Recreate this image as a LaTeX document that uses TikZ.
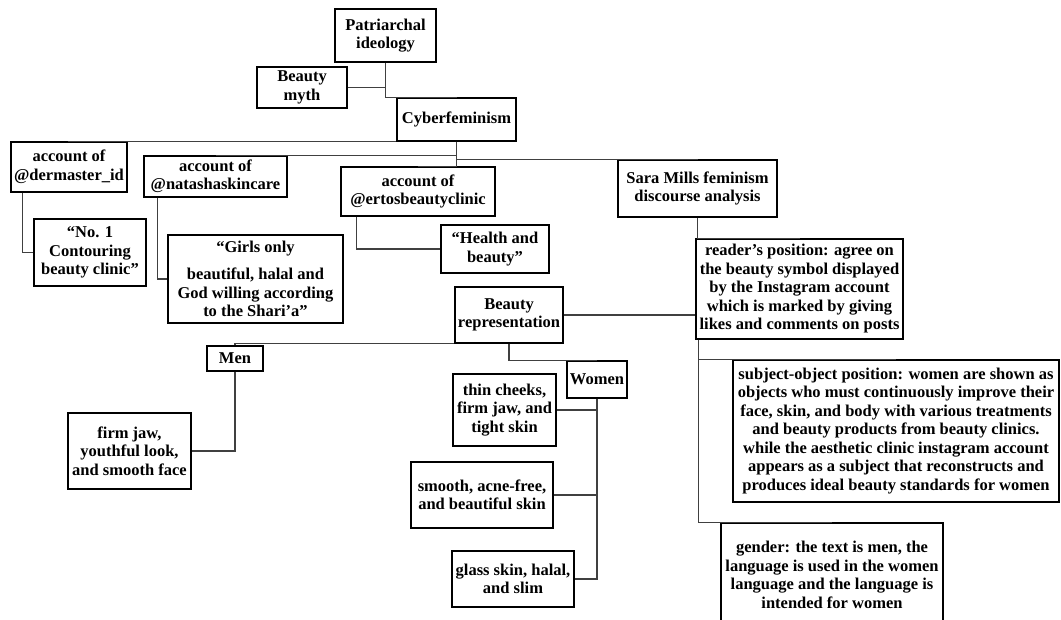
\documentclass[tikz,border=0pt]{standalone}
\usepackage{fontspec}
\setmainfont{Liberation Serif}
\usepackage{tikz}

\begin{document}
\begin{tikzpicture}[x=1pt, y=-1pt,
  box/.style={draw, line width=1.2pt, inner sep=1pt, align=center,
    font=\bfseries\fontsize{16.5}{18.5}\selectfont},
  link/.style={line width=1.4pt, draw=black!75}
]
\useasboundingbox (0,0) rectangle (1061,619);
% top of the tree
\node[box, minimum width=101pt, minimum height=53pt] (patri) at (385.5,35.5) {Patriarchal\\ideology};
\node[box, minimum width=90pt, minimum height=41pt] (myth) at (302,87.5) {Beauty\\myth};
\node[box, minimum width=119pt, minimum height=43pt] (cyber) at (456.5,119.5) {Cyberfeminism};
% accounts
\node[box, minimum width=116pt, minimum height=50pt] (derm) at (69,167) {account of\\@dermaster\_id};
\node[box, minimum width=143pt, minimum height=41pt] (nat) at (215.5,176.5) {account of\\@natashaskincare};
\node[box, minimum width=154pt, minimum height=49pt] (ertos) at (418,191.5) {account of\\@ertosbeautyclinic};
\node[box, minimum width=159pt, minimum height=57pt] (sara) at (697.5,188.5) {Sara Mills feminism\\discourse analysis};
\node[box, minimum width=112pt, minimum height=67pt] (no1) at (90,252.5) {“No. 1\\Contouring\\beauty clinic”};
\node[box, minimum width=175pt, minimum height=88pt] (girls) at (255.5,279) {“Girls only\\[9pt]beautiful, halal and\\God willing according\\to the Shari’a”};
\node[box, minimum width=108pt, minimum height=48pt] (health) at (495,249) {“Health and\\beauty”};
% analysis
\node[box, minimum width=207pt, minimum height=100pt] (reader) at (799.5,289) {reader’s position: agree on\\the beauty symbol displayed\\by the Instagram account\\which is marked by giving\\likes and comments on posts};
\node[box, minimum width=326pt, minimum height=142pt] (subj) at (896,431) {subject-object position: women are shown as\\objects who must continuously improve their\\face, skin, and body with various treatments\\and beauty products from beauty clinics.\\while the aesthetic clinic instagram account\\appears as a subject that reconstructs and\\produces ideal beauty standards for women};
\node[box, minimum width=222pt, minimum height=104pt] (gender) at (832,575) {gender: the text is men, the\\language is used in the women\\language and the language is\\intended for women};
% representation
\node[box, minimum width=108pt, minimum height=56pt] (brep) at (509,315) {Beauty\\representation};
\node[box, minimum width=56pt, minimum height=25pt] (men) at (235,358.5) {Men};
\node[box, minimum width=60pt, minimum height=37pt] (women) at (597,379.5) {Women};
\node[box, minimum width=123pt, minimum height=76pt] (jaw) at (129.5,451) {firm jaw,\\youthful look,\\and smooth face};
\node[box, minimum width=103pt, minimum height=72pt] (thin) at (504.5,410) {thin cheeks,\\firm jaw, and\\tight skin};
\node[box, minimum width=142pt, minimum height=66pt] (smooth) at (482,495) {smooth, acne-free,\\and beautiful skin};
\node[box, minimum width=122pt, minimum height=56pt] (glass) at (513,579) {glass skin, halal,\\and slim};

\draw[link] (patri.south) |- (cyber.north);
\draw[link] (myth.east) -- (myth.east -| patri.south);
\draw[link] (cyber.south west) -| (derm.north);
\draw[link] (cyber.south) |- (nat.north);
\draw[link] (cyber.south) |- (ertos.north);
\draw[link] (cyber.south) |- (sara.north);
\draw[link] ([xshift=12pt]derm.south west) |- (no1.west);
\draw[link] ([xshift=14pt]nat.south west) |- (girls.west);
\draw[link] ([xshift=16pt]ertos.south west) |- (health.west);
\draw[link] (sara.south) |- (reader.north);
\draw[link] (brep.east) -- (brep.east -| reader.west);
\draw[link] ([xshift=3pt]reader.south west) |- (subj.north);
\draw[link] ([xshift=3pt]reader.south west) |- (gender.north);
\draw[link] (brep.south west) -| (men.north);
\draw[link] (brep.south) |- (women.north);
\draw[link] (men.south) |- (jaw.east);
\draw[link] (women.south) |- (thin.east);
\draw[link] (women.south) |- (smooth.east);
\draw[link] (women.south) |- (glass.east);
\end{tikzpicture}
\end{document}
